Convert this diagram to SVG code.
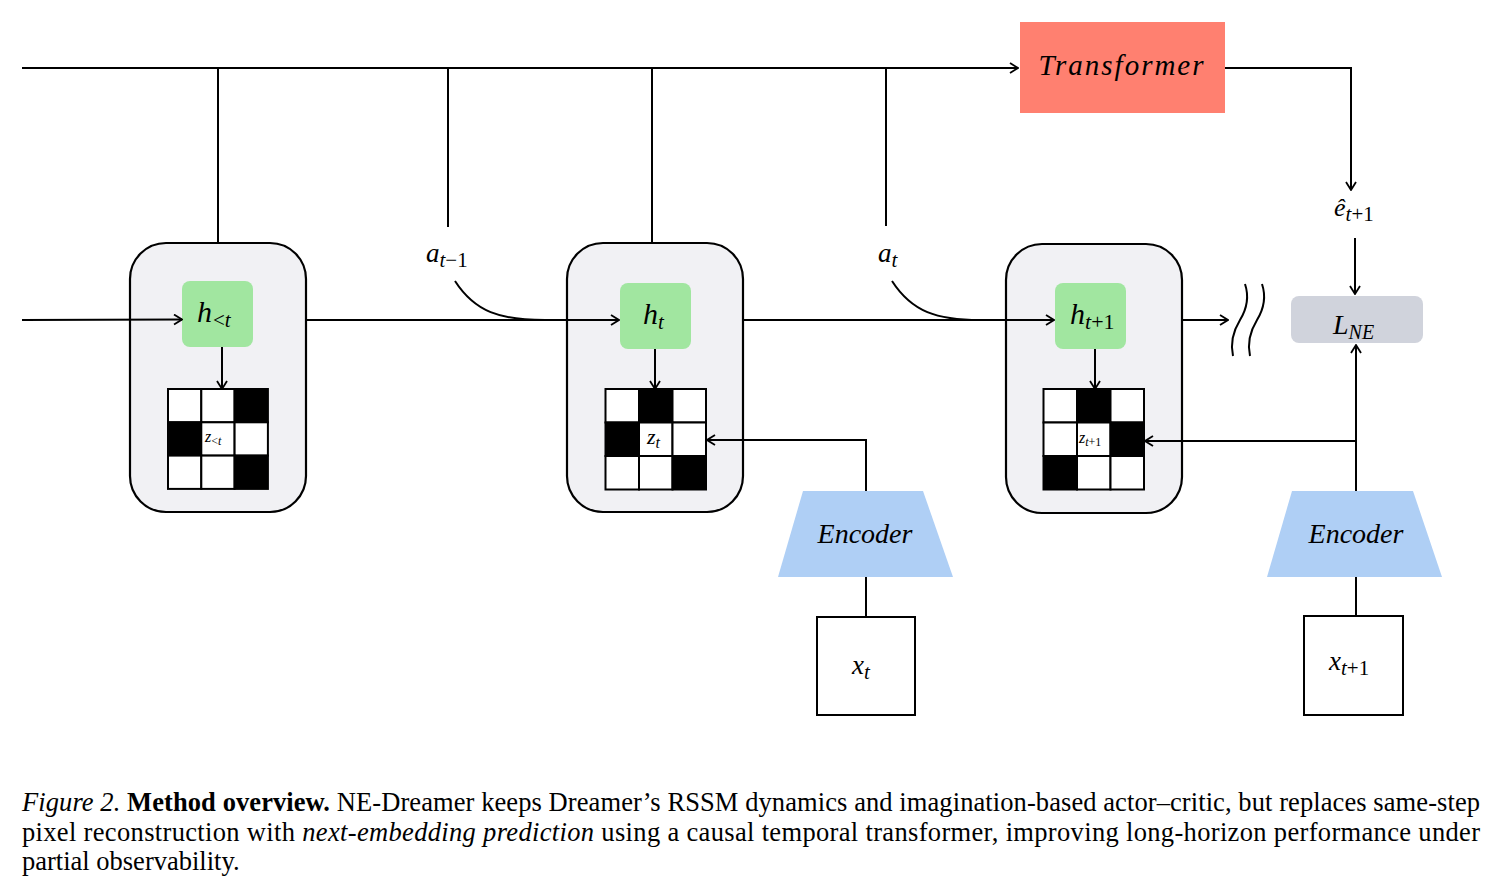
<svg xmlns="http://www.w3.org/2000/svg" width="1496" height="892" viewBox="0 0 1496 892">
<style>
.ln{fill:none;stroke:#000;stroke-width:2}
.arr{marker-end:url(#ah)}
.cell{stroke:#000;stroke-width:2}
.w{fill:#fff}
.b{fill:#000}
.blk{fill:#F1F1F4;stroke:#000;stroke-width:2.2}
.hbox{fill:#A1E6A0}
.m{font-family:"Liberation Serif","DejaVu Serif",serif;font-style:italic;fill:#000}
.u{font-style:normal}
.cap{font-family:"Liberation Serif","Times New Roman",serif;font-size:26.5px;fill:#000}
</style>
<defs>
<marker id="ah" viewBox="0 0 10 12" refX="9" refY="6" markerWidth="10" markerHeight="12" markerUnits="userSpaceOnUse" orient="auto">
<path d="M1,1 L9,6 L1,11" fill="none" stroke="#000" stroke-width="1.8"/>
</marker>
</defs>
<rect width="1496" height="892" fill="#fff"/>

<g id="block-prev">
<rect class="blk" x="130" y="243" width="176" height="269" rx="36"/>
<rect class="hbox" x="182" y="281" width="71" height="66" rx="8"/>
<text class="m" x="197" y="322" font-size="30">h<tspan class="u" font-size="21" dy="5" dx="1">&lt;</tspan><tspan font-size="21">t</tspan></text>
<g>
<rect class="cell w" x="168" y="389" width="33.3" height="33.3"/>
<rect class="cell w" x="201.3" y="389" width="33.3" height="33.3"/>
<rect class="cell b" x="234.6" y="389" width="33.3" height="33.3"/>
<rect class="cell b" x="168" y="422.3" width="33.3" height="33.3"/>
<rect class="cell w" x="201.3" y="422.3" width="33.3" height="33.3"/>
<rect class="cell w" x="234.6" y="422.3" width="33.3" height="33.3"/>
<rect class="cell w" x="168" y="455.6" width="33.3" height="33.3"/>
<rect class="cell w" x="201.3" y="455.6" width="33.3" height="33.3"/>
<rect class="cell b" x="234.6" y="455.6" width="33.3" height="33.3"/>
</g>
<text class="m" x="205" y="442" font-size="16">z<tspan class="u" font-size="12" dy="3">&lt;</tspan><tspan font-size="12">t</tspan></text>
</g>

<g id="block-t">
<rect class="blk" x="567" y="243" width="176" height="269" rx="36"/>
<rect class="hbox" x="620" y="283" width="71" height="66" rx="8"/>
<text class="m" x="643" y="324" font-size="30">h<tspan font-size="21" dy="5">t</tspan></text>
<g>
<rect class="cell w" x="605.5" y="389" width="33.5" height="33.5"/>
<rect class="cell b" x="639" y="389" width="33.5" height="33.5"/>
<rect class="cell w" x="672.5" y="389" width="33.5" height="33.5"/>
<rect class="cell b" x="605.5" y="422.5" width="33.5" height="33.5"/>
<rect class="cell w" x="639" y="422.5" width="33.5" height="33.5"/>
<rect class="cell w" x="672.5" y="422.5" width="33.5" height="33.5"/>
<rect class="cell w" x="605.5" y="456" width="33.5" height="33.5"/>
<rect class="cell w" x="639" y="456" width="33.5" height="33.5"/>
<rect class="cell b" x="672.5" y="456" width="33.5" height="33.5"/>
</g>
<text class="m" x="647" y="444" font-size="22">z<tspan font-size="16" dy="4">t</tspan></text>
</g>

<g id="block-next">
<rect class="blk" x="1006" y="244" width="176" height="269" rx="36"/>
<rect class="hbox" x="1055" y="283" width="71" height="66" rx="8"/>
<text class="m" x="1070" y="324" font-size="30">h<tspan font-size="22" dy="5">t</tspan><tspan class="u" font-size="22">+1</tspan></text>
<g>
<rect class="cell w" x="1043.5" y="389" width="33.5" height="33.5"/>
<rect class="cell b" x="1077" y="389" width="33.5" height="33.5"/>
<rect class="cell w" x="1110.5" y="389" width="33.5" height="33.5"/>
<rect class="cell w" x="1043.5" y="422.5" width="33.5" height="33.5"/>
<rect class="cell w" x="1077" y="422.5" width="33.5" height="33.5"/>
<rect class="cell b" x="1110.5" y="422.5" width="33.5" height="33.5"/>
<rect class="cell b" x="1043.5" y="456" width="33.5" height="33.5"/>
<rect class="cell w" x="1077" y="456" width="33.5" height="33.5"/>
<rect class="cell w" x="1110.5" y="456" width="33.5" height="33.5"/>
</g>
<text class="m" x="1079" y="443" font-size="16">z<tspan font-size="12" dy="3">t</tspan><tspan class="u" font-size="12">+1</tspan></text>
</g>

<g id="transformer">
<rect x="1020" y="22" width="205" height="91" fill="#FF8070"/>
<text class="m" x="1122" y="75" font-size="29" text-anchor="middle" letter-spacing="2">Transformer</text>
</g>

<g id="loss">
<rect x="1291" y="296" width="132" height="47" rx="8" fill="#D0D3DC"/>
<text class="m" x="1333" y="334" font-size="28">L<tspan font-size="20" dy="5">NE</tspan></text>
</g>

<g id="e-hat">
<text class="m" x="1334" y="216" font-size="26">ê<tspan font-size="21" dy="5">t</tspan><tspan class="u" font-size="21">+1</tspan></text>
</g>

<g id="a-prev">
<text class="m" x="426" y="262" font-size="27">a<tspan font-size="21" dy="5">t</tspan><tspan class="u" font-size="21">−1</tspan></text>
</g>
<g id="a-t">
<text class="m" x="878" y="262" font-size="27">a<tspan font-size="21" dy="5">t</tspan></text>
</g>

<g id="encoder-t">
<polygon points="803,491 923,491 953,577 778,577" fill="#AFCFF5"/>
<text class="m" x="865" y="543" font-size="28" text-anchor="middle">Encoder</text>
</g>
<g id="encoder-next">
<polygon points="1292,491 1413,491 1442,577 1267,577" fill="#AFCFF5"/>
<text class="m" x="1356" y="543" font-size="28" text-anchor="middle">Encoder</text>
</g>

<g id="obs-t">
<rect x="817" y="617" width="98" height="98" fill="#fff" stroke="#000" stroke-width="2"/>
<text class="m" x="852" y="674" font-size="27">x<tspan font-size="21" dy="5">t</tspan></text>
</g>
<g id="obs-next">
<rect x="1304" y="616" width="99" height="99" fill="#fff" stroke="#000" stroke-width="2"/>
<text class="m" x="1329" y="670" font-size="27">x<tspan font-size="21" dy="5">t</tspan><tspan class="u" font-size="21">+1</tspan></text>
</g>

<g id="connectors">
<path class="ln arr" d="M22,68 H1018"/>
<path class="ln" d="M218,68 V243"/>
<path class="ln" d="M448,68 V227"/>
<path class="ln" d="M652,68 V243"/>
<path class="ln" d="M886,68 V226"/>
<path class="ln arr" d="M1225,68 H1351 V190"/>
<path class="ln arr" d="M1355,238 V294"/>
<path class="ln arr" d="M22,320 L182,319.5"/>
<path class="ln arr" d="M306,320 H619"/>
<path class="ln arr" d="M743,320 H1054"/>
<path class="ln arr" d="M1182,320 H1228"/>
<path class="ln" d="M455,281 C475,312 500,320 545,320"/>
<path class="ln" d="M892,281 C912,312 937,320 980,320"/>
<path class="ln arr" d="M222,347 V389"/>
<path class="ln arr" d="M655,349 V389"/>
<path class="ln arr" d="M1095,349 V389"/>
<path class="ln arr" d="M866,491 V440 H707"/>
<path class="ln" d="M866,577 V617"/>
<path class="ln arr" d="M1356,491 V345"/>
<path class="ln arr" d="M1356,441 H1145"/>
<path class="ln" d="M1356,577 V616"/>
<path class="ln" d="M1245,284 Q1251,302 1240,320 Q1229,338 1233,356"/>
<path class="ln" d="M1262,284 Q1268,302 1257,320 Q1246,338 1250,356"/>
</g>

<g id="caption">
<text class="cap" x="22" y="811" textLength="1458" lengthAdjust="spacing"><tspan font-style="italic">Figure 2.</tspan> <tspan font-weight="bold">Method overview.</tspan> NE-Dreamer keeps Dreamer’s RSSM dynamics and imagination-based actor–critic, but replaces same-step</text>
<text class="cap" x="22" y="841" textLength="1458" lengthAdjust="spacing">pixel reconstruction with <tspan font-style="italic">next-embedding prediction</tspan> using a causal temporal transformer, improving long-horizon performance under</text>
<text class="cap" x="22" y="870">partial observability.</text>
</g>
</svg>
